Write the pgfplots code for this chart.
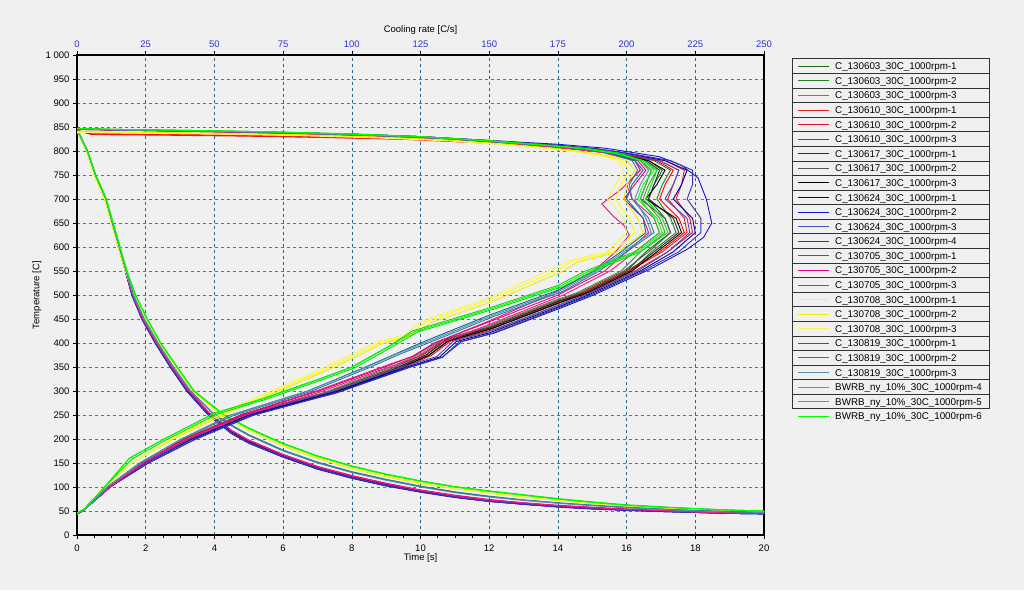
\documentclass[border=0pt]{standalone}
\usepackage{pgfplots}
\pgfplotsset{compat=1.18}
\usepackage{fontspec}
\setmainfont{Liberation Sans}
\definecolor{bgc}{RGB}{240,240,240}
\definecolor{gridv}{RGB}{40,100,140}
\definecolor{gridh}{RGB}{110,110,110}
\definecolor{tickblue}{RGB}{50,50,205}
\definecolor{ga}{RGB}{20,110,20}
\definecolor{gb}{RGB}{34,130,34}
\definecolor{gc}{RGB}{70,150,70}
\definecolor{ra}{RGB}{225,30,30}
\definecolor{rb}{RGB}{235,20,45}
\definecolor{rc}{RGB}{255,0,0}
\definecolor{ka}{RGB}{45,45,45}
\definecolor{kb}{RGB}{85,85,85}
\definecolor{kc}{RGB}{0,0,0}
\definecolor{ba}{RGB}{0,0,150}
\definecolor{bb}{RGB}{20,20,205}
\definecolor{bc}{RGB}{75,75,195}
\definecolor{bd}{RGB}{50,50,180}
\definecolor{pa}{RGB}{220,20,120}
\definecolor{pb}{RGB}{232,0,130}
\definecolor{pc}{RGB}{250,20,140}
\definecolor{ya}{RGB}{255,255,0}
\definecolor{yb}{RGB}{238,238,0}
\definecolor{yc}{RGB}{245,245,90}
\definecolor{ta}{RGB}{0,110,150}
\definecolor{tb}{RGB}{40,120,160}
\definecolor{tc}{RGB}{90,140,170}
\definecolor{la}{RGB}{40,200,40}
\definecolor{lb}{RGB}{0,230,0}
\definecolor{lc}{RGB}{0,255,0}
\begin{document}
\begin{tikzpicture}
\useasboundingbox (0,0) rectangle (1024pt,590pt);
\fill[bgc] (0,0) rectangle (1024pt,590pt);
\pgfplotsset{
  common/.style={
    at={(77pt,55pt)}, anchor=south west, scale only axis,
    width=687pt, height=480pt, ymin=0, ymax=1000,
    tick align=outside, major tick length=4pt, minor tick length=3pt,
    tick style={black, line width=0.6pt},
    axis line style={black, line width=1.5pt},
    every tick label/.append style={font=\fontsize{9.5}{11}\selectfont},
    /pgf/number format/assume math mode=true,
    every axis plot/.append style={line width=0.9pt},
  }
}
% ---------- time axis (cooling curves) ----------
\begin{axis}[common,
  xmin=0, xmax=20,
  xtick={0,2,...,20}, minor x tick num=3,
  ytick={0,50,...,1000},
  yticklabels={0,50,100,150,200,250,300,350,400,450,500,550,600,650,700,750,800,850,900,950,1 000},
  xtick pos=left, ytick pos=left,
  xticklabel style={yshift=-2pt},
  xmajorgrids, ymajorgrids,
  major x grid style={gridv, dash pattern=on 3pt off 3pt, line width=0.6pt},
  major y grid style={gridh, dash pattern=on 3pt off 3pt, line width=0.6pt},
]
% dark green 130603
\addplot[ga] coordinates {(0,845)(0.3,800)(0.53,751)(0.83,701)(1.02,651)(1.21,602)(1.41,552)(1.6,503)(1.89,453)(2.28,403)(2.72,353)(3.2,303)(3.83,253)(4.5,215)(5,195)(6,165)(7,140)(8,121)(9,105)(10,92)(11,81)(12,72)(13,66)(14,60)(15,56)(16,53)(17,50)(18,48)(19,46)(20,45)};
\addplot[gb] coordinates {(0,845)(0.3,800)(0.53,751)(0.83,701)(1.02,652)(1.21,602)(1.41,553)(1.6,504)(1.89,454)(2.28,404)(2.72,354)(3.2,304)(3.83,254)(4.5,216)(5,196)(6,166)(7,141)(8,122)(9,106)(10,92)(11,81)(12,72)(13,66)(14,60)(15,56)(16,53)(17,50)(18,48)(19,46)(20,45)};
\addplot[gc] coordinates {(0,845)(0.3,800)(0.53,750)(0.83,700)(1.02,651)(1.21,601)(1.41,551)(1.6,502)(1.89,452)(2.28,402)(2.72,352)(3.2,302)(3.83,252)(4.5,214)(5,194)(6,164)(7,139)(8,120)(9,104)(10,91)(11,80)(12,71)(13,65)(14,60)(15,56)(16,52)(17,50)(18,48)(19,46)(20,45)};
% red 130610
\addplot[ra] coordinates {(0,843)(0.3,799)(0.53,750)(0.83,700)(1.02,651)(1.21,602)(1.41,552)(1.6,503)(1.89,453)(2.28,403)(2.72,353)(3.2,303)(3.83,253)(4.5,215)(5,195)(6,165)(7,140)(8,121)(9,105)(10,92)(11,81)(12,72)(13,66)(14,60)(15,56)(16,53)(17,50)(18,48)(19,46)(20,45)};
\addplot[rb] coordinates {(0,842)(0.3,799)(0.53,750)(0.83,700)(1.02,651)(1.21,602)(1.41,553)(1.6,503)(1.89,454)(2.28,404)(2.72,354)(3.2,304)(3.83,254)(4.5,216)(5,196)(6,166)(7,141)(8,122)(9,106)(10,93)(11,82)(12,73)(13,66)(14,61)(15,57)(16,53)(17,50)(18,48)(19,46)(20,45)};
\addplot[rc] coordinates {(0,843)(0.3,799)(0.53,750)(0.83,700)(1.02,650)(1.21,601)(1.41,551)(1.6,502)(1.89,452)(2.28,402)(2.72,352)(3.2,302)(3.83,252)(4.5,214)(5,194)(6,164)(7,139)(8,120)(9,104)(10,91)(11,80)(12,71)(13,65)(14,60)(15,56)(16,52)(17,50)(18,48)(19,46)(20,45)};
% gray/black 130617
\addplot[ka] coordinates {(0,845)(0.3,800)(0.53,751)(0.83,701)(1.02,651)(1.21,602)(1.41,552)(1.6,503)(1.89,453)(2.28,403)(2.72,353)(3.2,303)(3.83,253)(4.5,215)(5,195)(6,165)(7,140)(8,121)(9,105)(10,92)(11,81)(12,72)(13,66)(14,60)(15,56)(16,53)(17,50)(18,48)(19,46)(20,45)};
\addplot[kb] coordinates {(0,845)(0.3,800)(0.53,750)(0.83,700)(1.02,650)(1.21,601)(1.41,551)(1.6,502)(1.89,452)(2.28,402)(2.72,352)(3.2,302)(3.83,252)(4.5,214)(5,194)(6,164)(7,139)(8,120)(9,104)(10,91)(11,80)(12,71)(13,65)(14,59)(15,55)(16,52)(17,50)(18,47)(19,46)(20,45)};
\addplot[kc] coordinates {(0,845)(0.3,800)(0.53,751)(0.83,701)(1.02,651)(1.21,602)(1.41,552)(1.6,503)(1.89,453)(2.28,403)(2.72,353)(3.2,303)(3.83,253)(4.5,215)(5,195)(6,165)(7,140)(8,121)(9,105)(10,92)(11,81)(12,72)(13,66)(14,60)(15,56)(16,53)(17,50)(18,48)(19,46)(20,45)};
% blue 130624
\addplot[ba] coordinates {(0,845)(0.3,800)(0.53,750)(0.83,700)(1.02,650)(1.21,600)(1.41,550)(1.6,500)(1.89,450)(2.28,400)(2.72,350)(3.2,300)(3.83,250)(4.5,212)(5,192)(6,163)(7,138)(8,119)(9,103)(10,90)(11,79)(12,70)(13,64)(14,59)(15,55)(16,52)(17,49)(18,47)(19,45)(20,44)};
\addplot[bb] coordinates {(0,845)(0.3,799)(0.53,749)(0.83,699)(1.02,649)(1.21,599)(1.41,549)(1.6,499)(1.89,449)(2.28,399)(2.72,349)(3.2,299)(3.83,249)(4.5,211)(5,191)(6,162)(7,137)(8,118)(9,102)(10,89)(11,78)(12,70)(13,64)(14,58)(15,54)(16,51)(17,49)(18,47)(19,45)(20,44)};
\addplot[bc] coordinates {(0,845)(0.3,800)(0.53,750)(0.83,700)(1.02,650)(1.21,601)(1.41,551)(1.6,501)(1.89,451)(2.28,401)(2.72,351)(3.2,301)(3.83,251)(4.5,213)(5,193)(6,164)(7,139)(8,120)(9,104)(10,90)(11,80)(12,71)(13,65)(14,59)(15,55)(16,52)(17,49)(18,47)(19,45)(20,44)};
\addplot[bd] coordinates {(0,845)(0.3,800)(0.53,750)(0.83,700)(1.02,650)(1.21,600)(1.41,550)(1.6,500)(1.89,450)(2.28,400)(2.72,350)(3.2,300)(3.83,250)(4.5,212)(5,192)(6,163)(7,138)(8,119)(9,103)(10,90)(11,79)(12,70)(13,64)(14,59)(15,55)(16,52)(17,49)(18,47)(19,45)(20,44)};
% pink 130705
\addplot[pa] coordinates {(0,845)(0.3,800)(0.53,751)(0.83,701)(1.02,652)(1.21,603)(1.41,553)(1.6,504)(1.89,454)(2.28,405)(2.72,355)(3.2,305)(3.83,255)(4.5,217)(5,197)(6,167)(7,142)(8,123)(9,107)(10,93)(11,82)(12,73)(13,67)(14,61)(15,57)(16,54)(17,51)(18,48)(19,46)(20,45)};
\addplot[pb] coordinates {(0,845)(0.3,800)(0.53,751)(0.83,701)(1.02,652)(1.21,603)(1.41,554)(1.6,505)(1.89,455)(2.28,406)(2.72,356)(3.2,306)(3.83,256)(4.5,218)(5,198)(6,168)(7,143)(8,124)(9,108)(10,94)(11,83)(12,74)(13,67)(14,62)(15,58)(16,54)(17,51)(18,49)(19,47)(20,45)};
\addplot[pc] coordinates {(0,845)(0.3,800)(0.53,751)(0.83,701)(1.02,651)(1.21,602)(1.41,553)(1.6,504)(1.89,454)(2.28,404)(2.72,355)(3.2,305)(3.83,255)(4.5,217)(5,197)(6,167)(7,142)(8,123)(9,107)(10,93)(11,82)(12,73)(13,67)(14,61)(15,57)(16,53)(17,51)(18,48)(19,46)(20,45)};
% yellow 130708
\addplot[ya] coordinates {(0,842)(0.28,800)(0.5,750)(0.8,700)(1.0,650)(1.2,600)(1.41,550)(1.66,500)(2.0,450)(2.4,400)(2.88,350)(3.38,300)(4.2,250)(5,219)(6,186)(7,160)(8,139)(9,122)(10,108)(11,97)(12,88)(13,80)(14,73)(15,66)(16,60)(17,56)(18,53)(19,51)(20,49)};
\addplot[yb] coordinates {(0,841)(0.28,799)(0.5,749)(0.8,699)(1.0,649)(1.2,599)(1.41,549)(1.66,499)(2.0,449)(2.4,399)(2.88,349)(3.38,299)(4.2,249)(5,218)(6,185)(7,159)(8,138)(9,121)(10,107)(11,96)(12,87)(13,79)(14,72)(15,65)(16,60)(17,56)(18,53)(19,51)(20,49)};
\addplot[yc] coordinates {(0,842)(0.28,800)(0.5,750)(0.8,700)(1.0,651)(1.2,601)(1.41,551)(1.66,501)(2.0,451)(2.4,401)(2.88,351)(3.38,301)(4.2,251)(5,220)(6,187)(7,161)(8,140)(9,123)(10,109)(11,97)(12,88)(13,80)(14,73)(15,66)(16,61)(17,57)(18,54)(19,51)(20,49)};
% teal 130819
\addplot[ta] coordinates {(0,845)(0.3,800)(0.53,751)(0.84,700)(1.03,650)(1.23,600)(1.43,550)(1.64,500)(1.95,450)(2.35,400)(2.8,350)(3.3,300)(4.0,250)(4.5,228)(5,208)(6,176)(7,151)(8,131)(9,115)(10,101)(11,89)(12,80)(13,73)(14,67)(15,62)(16,57)(17,54)(18,51)(19,49)(20,47)};
\addplot[tb] coordinates {(0,845)(0.3,800)(0.53,751)(0.84,701)(1.03,651)(1.23,601)(1.43,551)(1.64,501)(1.95,451)(2.35,401)(2.8,351)(3.3,301)(4.0,251)(4.5,229)(5,209)(6,177)(7,152)(8,132)(9,116)(10,102)(11,90)(12,81)(13,73)(14,67)(15,62)(16,58)(17,54)(18,51)(19,49)(20,47)};
\addplot[tc] coordinates {(0,845)(0.3,800)(0.53,750)(0.84,700)(1.03,650)(1.23,600)(1.43,550)(1.64,500)(1.95,450)(2.35,400)(2.8,350)(3.3,300)(4.0,250)(4.5,227)(5,207)(6,175)(7,150)(8,130)(9,114)(10,100)(11,88)(12,79)(13,72)(14,66)(15,61)(16,57)(17,53)(18,50)(19,48)(20,47)};
% bright green BWRB
\addplot[la] coordinates {(0,846)(0.3,800)(0.53,752)(0.85,700)(1.05,650)(1.25,600)(1.45,550)(1.7,500)(2.04,450)(2.43,400)(2.91,350)(3.4,300)(4.27,250)(5,222)(6,190)(7,164)(8,143)(9,126)(10,112)(11,100)(12,91)(13,83)(14,75)(15,68)(16,62)(17,58)(18,55)(19,52)(20,50)};
\addplot[lb] coordinates {(0,846)(0.3,801)(0.53,753)(0.85,701)(1.05,651)(1.25,601)(1.45,551)(1.7,501)(2.04,451)(2.43,401)(2.91,351)(3.4,301)(4.27,251)(5,223)(6,191)(7,165)(8,144)(9,127)(10,113)(11,101)(12,92)(13,84)(14,76)(15,69)(16,63)(17,59)(18,55)(19,52)(20,50)};
\addplot[lc] coordinates {(0,846)(0.3,800)(0.53,752)(0.85,700)(1.05,650)(1.25,600)(1.45,550)(1.7,500)(2.04,450)(2.43,400)(2.91,350)(3.4,300)(4.27,250)(5,222)(6,190)(7,164)(8,143)(9,126)(10,112)(11,100)(12,91)(13,83)(14,75)(15,68)(16,62)(17,58)(18,55)(19,52)(20,50)};
\end{axis}
% ---------- cooling-rate axis ----------
\begin{axis}[common,
  xmin=0, xmax=250,
  axis x line*=top, hide y axis,
  xtick={0,25,...,250},
  xticklabel style={color=tickblue},
]
\addplot[ga] coordinates {(0,846)(15,844)(40,842)(70,839)(100,834)(125,829)(150,820)(170,812)(185,804)(196,795)(208,780)(213,760)(210,730)(208,700)(214,660)(216,630)(207,590)(200,550)(184,505)(175,486)(150,431)(134,405)(127,375)(115,345)(92,296)(61,250)(40,200)(24,150)(12,100)(6,70)(2,50)(0,44)};
\addplot[gb] coordinates {(0,846)(15,844)(40,842)(70,839)(100,835)(125,829)(150,821)(170,813)(186,804)(197,795)(210,780)(216,760)(213,730)(211,700)(216,660)(218,630)(209,590)(202,550)(186,505)(176,484)(151,430)(135,403)(128,374)(116,344)(93,295)(62,249)(41,199)(25,150)(12,100)(6,70)(2,50)(0,44)};
\addplot[gc] coordinates {(0,846)(15,844)(40,841)(70,838)(100,834)(125,828)(150,820)(170,811)(184,803)(194,795)(206,780)(211,760)(208,730)(206,700)(212,660)(214,630)(205,590)(198,550)(182,505)(173,487)(148,432)(133,407)(125,377)(113,347)(90,297)(60,251)(39,201)(23,151)(11,100)(5,70)(2,50)(0,44)};
\addplot[ra] coordinates {(0,843)(5,835)(30,834)(60,832)(90,829)(120,825)(150,817)(170,810)(186,802)(197,794)(212,780)(219,760)(217,730)(215,700)(221,660)(222,630)(213,590)(201,550)(185,505)(176,486)(151,431)(135,405)(128,375)(116,345)(92,296)(61,250)(40,200)(24,150)(12,100)(6,70)(2,50)(0,44)};
\addplot[rb] coordinates {(0,842)(6,834)(30,833)(60,831)(90,828)(120,824)(150,816)(170,809)(187,801)(199,793)(214,780)(221,760)(220,730)(218,700)(223,660)(224,630)(215,590)(203,550)(187,505)(178,485)(153,430)(136,404)(129,374)(117,344)(94,295)(62,249)(41,199)(25,150)(12,100)(6,70)(2,50)(0,44)};
\addplot[rc] coordinates {(0,843)(5,836)(30,835)(60,833)(90,830)(120,826)(150,818)(170,810)(185,802)(196,795)(211,780)(217,760)(214,730)(212,700)(219,660)(221,630)(212,590)(200,550)(184,505)(175,487)(150,432)(134,406)(126,376)(114,346)(91,297)(60,251)(39,200)(24,150)(12,100)(6,70)(2,50)(0,44)};
\addplot[ka] coordinates {(0,846)(15,844)(40,842)(70,839)(100,834)(125,829)(150,820)(170,812)(185,804)(195,795)(207,780)(212,760)(210,730)(208,700)(217,660)(219,630)(210,590)(201,550)(185,505)(175,486)(150,431)(134,405)(127,375)(115,345)(92,296)(61,250)(40,200)(24,150)(12,100)(6,70)(2,50)(0,44)};
\addplot[kb] coordinates {(0,846)(15,844)(40,842)(70,838)(100,834)(125,828)(150,820)(170,811)(184,803)(194,795)(205,780)(209,760)(207,730)(205,700)(214,660)(216,630)(208,590)(199,550)(183,505)(174,487)(149,432)(133,406)(126,376)(114,346)(91,297)(60,251)(40,200)(24,150)(12,100)(6,70)(2,50)(0,44)};
\addplot[kc] coordinates {(0,846)(15,844)(40,842)(70,839)(100,835)(125,829)(150,821)(170,812)(186,804)(196,795)(208,780)(214,760)(211,730)(207,700)(218,660)(220,630)(211,590)(202,550)(186,505)(176,485)(151,430)(135,404)(128,374)(116,344)(93,296)(62,250)(41,200)(25,150)(12,100)(6,70)(2,50)(0,44)};
\addplot[ba] coordinates {(0,846)(15,844)(40,842)(70,839)(100,835)(125,830)(150,821)(172,813)(188,805)(199,796)(214,780)(222,760)(220,730)(217,700)(224,660)(225,630)(217,590)(205,550)(186,500)(175,475)(150,421)(138,403)(132,371)(120,350)(95,300)(63,250)(42,200)(25,150)(12,100)(6,70)(2,50)(0,44)};
\addplot[bb] coordinates {(0,846)(15,844)(40,842)(70,839)(100,835)(125,830)(150,822)(175,814)(192,806)(201,798)(212,788)(220,770)(226,744)(229,700)(231,650)(228,620)(222,595)(209,555)(188,500)(177,475)(152,421)(140,403)(133,371)(121,350)(96,300)(64,250)(43,200)(26,150)(12,100)(6,70)(2,50)(0,44)};
\addplot[bc] coordinates {(0,846)(15,844)(40,842)(70,839)(100,834)(125,829)(150,821)(171,812)(187,804)(198,795)(212,780)(219,760)(217,730)(214,700)(222,660)(223,630)(215,590)(204,550)(185,500)(174,476)(149,422)(137,404)(131,372)(119,351)(94,301)(62,251)(41,200)(25,150)(12,100)(6,70)(2,50)(0,44)};
\addplot[bd] coordinates {(0,846)(15,844)(40,842)(70,839)(100,835)(125,830)(150,822)(173,813)(189,805)(200,796)(216,780)(224,760)(224,730)(222,700)(227,660)(227,630)(219,590)(206,550)(187,500)(176,475)(151,420)(139,402)(133,370)(121,349)(96,299)(64,249)(43,199)(26,150)(12,100)(6,70)(2,50)(0,44)};
\addplot[pa] coordinates {(0,845)(20,843)(50,840)(80,836)(110,831)(140,823)(160,815)(178,806)(192,797)(203,780)(205,760)(198,720)(191,690)(195,665)(199,645)(201,625)(196,590)(188,550)(172,500)(150,446)(131,402)(123,374)(112,352)(88,302)(60,251)(40,200)(24,150)(12,100)(6,70)(2,50)(0,44)};
\addplot[pb] coordinates {(0,845)(20,843)(50,840)(80,836)(110,831)(140,823)(160,815)(178,806)(192,797)(204,780)(207,760)(203,730)(199,700)(206,660)(208,630)(200,590)(192,550)(175,500)(150,444)(130,400)(122,372)(112,350)(88,300)(60,250)(40,200)(24,150)(12,100)(6,70)(2,50)(0,44)};
\addplot[pc] coordinates {(0,845)(20,843)(50,840)(80,836)(110,831)(140,823)(160,815)(178,806)(191,797)(203,780)(205,760)(200,730)(202,700)(210,660)(212,630)(203,590)(194,550)(177,500)(152,443)(132,399)(124,371)(113,349)(89,299)(61,249)(40,200)(24,150)(12,100)(6,70)(2,50)(0,44)};
\addplot[ya] coordinates {(0,840)(20,838)(50,836)(80,833)(110,828)(135,822)(155,814)(172,806)(185,797)(193,788)(198,780)(201,760)(198,730)(196,700)(201,660)(203,630)(195,590)(180,570)(175,552)(150,490)(127,445)(120,415)(110,400)(92,350)(72,300)(52,250)(34,200)(20,150)(10,100)(3,55)(0,46)};
\addplot[yb] coordinates {(0,841)(20,839)(50,837)(80,834)(110,829)(135,823)(155,815)(173,806)(186,797)(195,788)(200,780)(203,760)(200,730)(199,700)(204,660)(206,630)(197,590)(182,568)(177,550)(152,488)(129,443)(121,414)(111,398)(93,348)(73,299)(53,249)(35,200)(20,150)(10,100)(3,55)(0,46)};
\addplot[yc] coordinates {(0,839)(20,837)(50,835)(80,832)(110,827)(135,821)(155,813)(171,805)(184,796)(192,788)(197,780)(199,760)(196,730)(193,700)(199,660)(200,630)(193,590)(179,572)(173,554)(149,492)(126,447)(119,417)(109,402)(91,352)(71,301)(51,251)(34,200)(20,150)(10,100)(3,55)(0,46)};
\addplot[ta] coordinates {(0,846)(15,844)(40,842)(70,839)(100,834)(125,829)(150,820)(170,812)(185,804)(195,795)(203,780)(206,760)(202,730)(200,700)(206,660)(207,630)(198,590)(188,550)(175,510)(150,458)(125,400)(117,380)(105,350)(84,300)(56,250)(38,200)(23,150)(11,100)(6,70)(2,50)(0,44)};
\addplot[tb] coordinates {(0,846)(15,844)(40,842)(70,839)(100,834)(125,829)(150,820)(170,812)(185,804)(194,795)(202,780)(204,760)(201,730)(202,700)(208,660)(210,630)(200,590)(190,550)(177,508)(152,456)(127,398)(118,378)(106,348)(85,299)(57,249)(38,200)(23,150)(11,100)(6,70)(2,50)(0,44)};
\addplot[tc] coordinates {(0,846)(15,844)(40,842)(70,839)(100,834)(125,829)(150,820)(170,812)(186,804)(196,795)(205,780)(208,760)(205,730)(203,700)(207,660)(209,630)(199,590)(189,550)(176,509)(151,457)(126,399)(117,379)(105,349)(84,300)(56,250)(38,200)(23,150)(11,100)(6,70)(2,50)(0,44)};
\addplot[la] coordinates {(0,847)(15,845)(40,843)(70,840)(100,835)(125,830)(150,821)(170,813)(185,805)(196,796)(205,780)(209,760)(207,730)(205,700)(210,660)(212,630)(203,590)(185,550)(175,520)(150,473)(122,425)(114,395)(100,350)(88,325)(68,285)(50,254)(31,198)(19,160)(10,100)(3,55)(0,46)};
\addplot[lb] coordinates {(0,847)(15,845)(40,843)(70,840)(100,836)(125,830)(150,822)(170,813)(186,805)(197,796)(206,780)(211,760)(209,730)(207,700)(213,660)(215,630)(205,590)(187,548)(177,518)(152,471)(124,423)(115,393)(101,348)(89,323)(69,283)(51,252)(32,197)(20,158)(10,100)(3,55)(0,46)};
\addplot[lc] coordinates {(0,847)(15,845)(40,843)(70,840)(100,835)(125,830)(150,821)(170,812)(185,804)(196,795)(206,780)(210,760)(206,730)(204,700)(211,660)(213,630)(204,590)(186,549)(176,519)(151,472)(123,424)(114,394)(100,349)(88,324)(68,284)(50,253)(31,198)(19,159)(10,100)(3,55)(0,46)};
\end{axis}
% ---------- legend (boxed rows, as in the reference) ----------
\foreach \k in {0,...,24}{
  \pgfmathsetmacro{\yb}{floor(531-\k*14.583)+0.5}
  \draw[black!80, line width=1pt] (792pt,\yb pt) -- (990pt,\yb pt);
}
\draw[black!80, line width=1pt] (792.5pt,531.5pt) -- (792.5pt,181.5pt);
\draw[black!80, line width=1pt] (989.5pt,531.5pt) -- (989.5pt,181.5pt);
\foreach \c/\t [count=\k from 0] in {
  ga/{C\_130603\_30C\_1000rpm-1}, gb/{C\_130603\_30C\_1000rpm-2}, gc/{C\_130603\_30C\_1000rpm-3},
  ra/{C\_130610\_30C\_1000rpm-1}, rb/{C\_130610\_30C\_1000rpm-2}, rc/{C\_130610\_30C\_1000rpm-3},
  ka/{C\_130617\_30C\_1000rpm-1}, kb/{C\_130617\_30C\_1000rpm-2}, kc/{C\_130617\_30C\_1000rpm-3},
  ba/{C\_130624\_30C\_1000rpm-1}, bb/{C\_130624\_30C\_1000rpm-2}, bc/{C\_130624\_30C\_1000rpm-3}, bd/{C\_130624\_30C\_1000rpm-4},
  pa/{C\_130705\_30C\_1000rpm-1}, pb/{C\_130705\_30C\_1000rpm-2}, pc/{C\_130705\_30C\_1000rpm-3},
  ya/{C\_130708\_30C\_1000rpm-1}, yb/{C\_130708\_30C\_1000rpm-2}, yc/{C\_130708\_30C\_1000rpm-3},
  ta/{C\_130819\_30C\_1000rpm-1}, tb/{C\_130819\_30C\_1000rpm-2}, tc/{C\_130819\_30C\_1000rpm-3},
  la/{BWRB\_ny\_10\%\_30C\_1000rpm-4}, lb/{BWRB\_ny\_10\%\_30C\_1000rpm-5}, lc/{BWRB\_ny\_10\%\_30C\_1000rpm-6}}{
  \pgfmathsetmacro{\yl}{floor(523.7-\k*14.583)+0.5}
  \draw[\c, line width=1pt] (798pt,\yl pt) -- (829pt,\yl pt);
  \node[anchor=base west, inner sep=0pt, font=\fontsize{9.8}{11}\selectfont] at (835pt,{520.2pt-\k*14.583pt}) {\t};
}
% axis titles
\node[font=\fontsize{9.5}{11}\selectfont] at (420.5pt,560pt) {Cooling rate [C/s]};
\node[font=\fontsize{9.5}{11}\selectfont] at (420.5pt,32pt) {Time [s]};
\node[font=\fontsize{9.5}{11}\selectfont, rotate=90] at (37pt,295pt) {Temperature [C]};
\end{tikzpicture}
\end{document}
